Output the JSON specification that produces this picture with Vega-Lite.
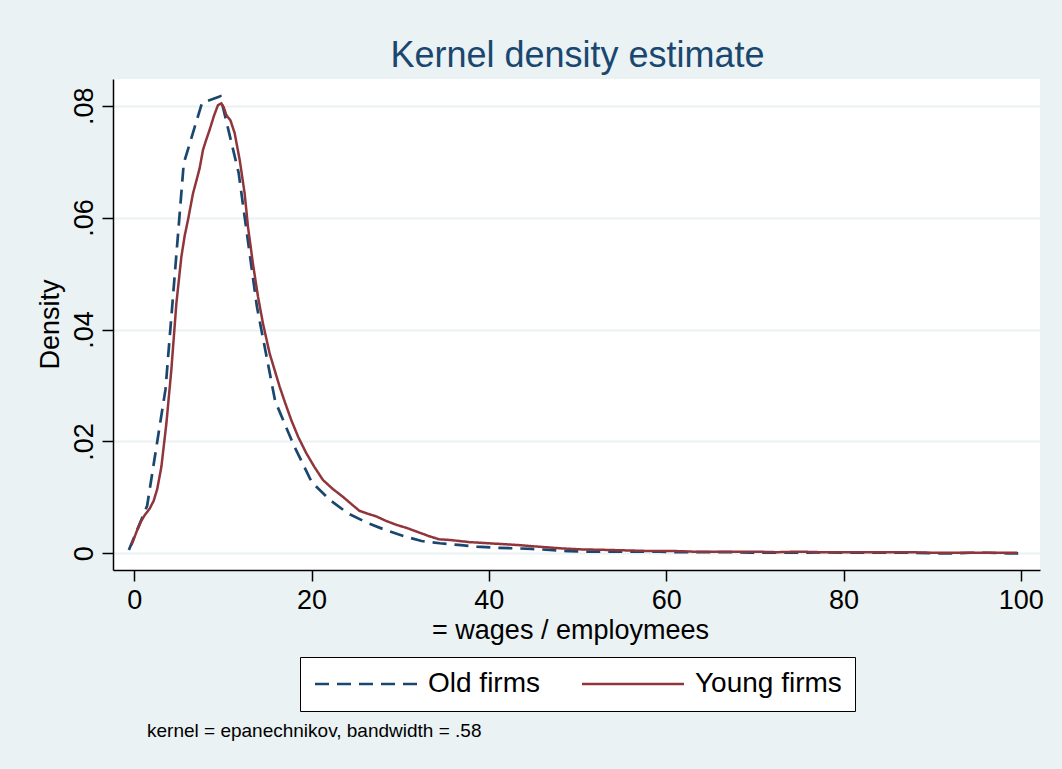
{
  "$schema": "https://vega.github.io/schema/vega-lite/v6.json",
  "autosize": "none",
  "width": 927,
  "height": 491,
  "padding": {"left": 113, "top": 79, "right": 22, "bottom": 199},
  "background": "#EAF2F3",
  "view": {"fill": "white", "stroke": null},
  "title": {
    "text": "kernel = epanechnikov, bandwidth = .58",
    "orient": "bottom",
    "anchor": "start",
    "frame": "group",
    "dx": 34,
    "offset": 10,
    "baseline": "top",
    "font": "Liberation Sans",
    "fontSize": 19,
    "fontWeight": "normal",
    "color": "black"
  },
  "config": {
    "font": "Liberation Sans",
    "axis": {
      "labelFont": "Liberation Sans",
      "titleFont": "Liberation Sans",
      "labelFontSize": 27,
      "titleFontSize": 27,
      "titleFontWeight": "normal",
      "labelColor": "black",
      "titleColor": "black",
      "domainColor": "black",
      "domainWidth": 1.5,
      "tickColor": "black",
      "tickWidth": 1.5,
      "tickSize": 11
    },
    "legend": {
      "orient": "none",
      "legendX": 187,
      "legendY": 578,
      "direction": "horizontal",
      "title": null,
      "symbolType": "M-5,0H5",
      "symbolSize": 416,
      "symbolOffset": 39,
      "symbolStrokeWidth": 2.5,
      "labelFont": "Liberation Sans",
      "labelFontSize": 28,
      "labelColor": "black",
      "labelOffset": 48,
      "columnPadding": 37,
      "padding": 13,
      "strokeColor": "black",
      "fillColor": "white"
    }
  },
  "datasets": {
    "kd": [
      {"series": "Old firms", "x": -0.60, "y": 0.0006},
      {"series": "Old firms", "x": 1.46, "y": 0.0085},
      {"series": "Old firms", "x": 3.53, "y": 0.0293},
      {"series": "Old firms", "x": 5.59, "y": 0.0697},
      {"series": "Old firms", "x": 7.65, "y": 0.0805},
      {"series": "Old firms", "x": 9.72, "y": 0.0817},
      {"series": "Old firms", "x": 11.78, "y": 0.0680},
      {"series": "Old firms", "x": 13.84, "y": 0.0441},
      {"series": "Old firms", "x": 15.90, "y": 0.0272},
      {"series": "Old firms", "x": 17.97, "y": 0.0194},
      {"series": "Old firms", "x": 20.03, "y": 0.0127},
      {"series": "Old firms", "x": 22.09, "y": 0.0095},
      {"series": "Old firms", "x": 24.16, "y": 0.0071},
      {"series": "Old firms", "x": 26.22, "y": 0.0055},
      {"series": "Old firms", "x": 28.28, "y": 0.0042},
      {"series": "Old firms", "x": 30.35, "y": 0.0031},
      {"series": "Old firms", "x": 32.41, "y": 0.0022},
      {"series": "Old firms", "x": 34.47, "y": 0.0018},
      {"series": "Old firms", "x": 36.54, "y": 0.0015},
      {"series": "Old firms", "x": 38.60, "y": 0.0012},
      {"series": "Old firms", "x": 40.66, "y": 0.0010},
      {"series": "Old firms", "x": 42.73, "y": 0.0009},
      {"series": "Old firms", "x": 44.79, "y": 0.0008},
      {"series": "Old firms", "x": 46.85, "y": 0.0006},
      {"series": "Old firms", "x": 48.92, "y": 0.0004},
      {"series": "Old firms", "x": 50.98, "y": 0.0003},
      {"series": "Old firms", "x": 53.04, "y": 0.0003},
      {"series": "Old firms", "x": 55.11, "y": 0.0003},
      {"series": "Old firms", "x": 57.17, "y": 0.0003},
      {"series": "Old firms", "x": 59.23, "y": 0.0003},
      {"series": "Old firms", "x": 61.30, "y": 0.0002},
      {"series": "Old firms", "x": 63.36, "y": 0.0002},
      {"series": "Old firms", "x": 65.42, "y": 0.0002},
      {"series": "Old firms", "x": 67.49, "y": 0.0002},
      {"series": "Old firms", "x": 69.55, "y": 0.0001},
      {"series": "Old firms", "x": 71.61, "y": 0.0001},
      {"series": "Old firms", "x": 73.68, "y": 0.0001},
      {"series": "Old firms", "x": 75.74, "y": 0.0001},
      {"series": "Old firms", "x": 77.80, "y": 0.0002},
      {"series": "Old firms", "x": 79.87, "y": 0.0001},
      {"series": "Old firms", "x": 81.93, "y": 0.0001},
      {"series": "Old firms", "x": 83.99, "y": 0.0001},
      {"series": "Old firms", "x": 86.06, "y": 0.0001},
      {"series": "Old firms", "x": 88.12, "y": 0.0001},
      {"series": "Old firms", "x": 90.18, "y": 0.0000},
      {"series": "Old firms", "x": 92.25, "y": 0.0000},
      {"series": "Old firms", "x": 94.31, "y": 0.0001},
      {"series": "Old firms", "x": 96.37, "y": 0.0001},
      {"series": "Old firms", "x": 98.44, "y": 0.0000},
      {"series": "Old firms", "x": 100.50, "y": 0.0000},
      {"series": "Young firms", "x": -0.3, "y": 0.0015},
      {"series": "Young firms", "x": 0.3, "y": 0.0040},
      {"series": "Young firms", "x": 0.8, "y": 0.0058},
      {"series": "Young firms", "x": 1.18, "y": 0.0068},
      {"series": "Young firms", "x": 1.75, "y": 0.0080},
      {"series": "Young firms", "x": 2.2, "y": 0.0094},
      {"series": "Young firms", "x": 2.6, "y": 0.0115},
      {"series": "Young firms", "x": 3.07, "y": 0.0155},
      {"series": "Young firms", "x": 3.63, "y": 0.0232},
      {"series": "Young firms", "x": 4.19, "y": 0.0328},
      {"series": "Young firms", "x": 4.76, "y": 0.0447},
      {"series": "Young firms", "x": 5.32, "y": 0.0530},
      {"series": "Young firms", "x": 5.7, "y": 0.0568},
      {"series": "Young firms", "x": 6.07, "y": 0.0596},
      {"series": "Young firms", "x": 6.63, "y": 0.0643},
      {"series": "Young firms", "x": 7.0, "y": 0.0665},
      {"series": "Young firms", "x": 7.38, "y": 0.0688},
      {"series": "Young firms", "x": 7.76, "y": 0.0721},
      {"series": "Young firms", "x": 8.1, "y": 0.0738},
      {"series": "Young firms", "x": 8.51, "y": 0.0757},
      {"series": "Young firms", "x": 9.0, "y": 0.0782},
      {"series": "Young firms", "x": 9.45, "y": 0.0801},
      {"series": "Young firms", "x": 9.83, "y": 0.0804},
      {"series": "Young firms", "x": 10.1, "y": 0.0797},
      {"series": "Young firms", "x": 10.4, "y": 0.0783},
      {"series": "Young firms", "x": 10.85, "y": 0.0774},
      {"series": "Young firms", "x": 11.33, "y": 0.0751},
      {"series": "Young firms", "x": 11.9, "y": 0.0703},
      {"series": "Young firms", "x": 12.46, "y": 0.0643},
      {"series": "Young firms", "x": 12.83, "y": 0.0584},
      {"series": "Young firms", "x": 13.39, "y": 0.0518},
      {"series": "Young firms", "x": 13.96, "y": 0.0459},
      {"series": "Young firms", "x": 14.52, "y": 0.0411},
      {"series": "Young firms", "x": 15.28, "y": 0.0357},
      {"series": "Young firms", "x": 16.4, "y": 0.0298},
      {"series": "Young firms", "x": 17.0, "y": 0.0270},
      {"series": "Young firms", "x": 17.72, "y": 0.0238},
      {"series": "Young firms", "x": 18.5, "y": 0.0208},
      {"series": "Young firms", "x": 19.41, "y": 0.0179},
      {"series": "Young firms", "x": 20.3, "y": 0.0155},
      {"series": "Young firms", "x": 21.29, "y": 0.0131},
      {"series": "Young firms", "x": 22.4, "y": 0.0115},
      {"series": "Young firms", "x": 23.54, "y": 0.0101},
      {"series": "Young firms", "x": 24.5, "y": 0.0088},
      {"series": "Young firms", "x": 25.4, "y": 0.0076},
      {"series": "Young firms", "x": 26.3, "y": 0.0071},
      {"series": "Young firms", "x": 27.3, "y": 0.0066},
      {"series": "Young firms", "x": 28.4, "y": 0.0058},
      {"series": "Young firms", "x": 29.56, "y": 0.0051},
      {"series": "Young firms", "x": 30.8, "y": 0.0045},
      {"series": "Young firms", "x": 32.0, "y": 0.0038},
      {"series": "Young firms", "x": 33.2, "y": 0.0031},
      {"series": "Young firms", "x": 34.4, "y": 0.0025},
      {"series": "Young firms", "x": 35.5, "y": 0.0024},
      {"series": "Young firms", "x": 36.7, "y": 0.0022},
      {"series": "Young firms", "x": 37.8, "y": 0.0020},
      {"series": "Young firms", "x": 38.95, "y": 0.0019},
      {"series": "Young firms", "x": 41.0, "y": 0.0017},
      {"series": "Young firms", "x": 43.1, "y": 0.0015},
      {"series": "Young firms", "x": 45.5, "y": 0.0012},
      {"series": "Young firms", "x": 48.0, "y": 0.0009},
      {"series": "Young firms", "x": 50.5, "y": 0.0007},
      {"series": "Young firms", "x": 53.6, "y": 0.0006},
      {"series": "Young firms", "x": 56.0, "y": 0.0005},
      {"series": "Young firms", "x": 58.5, "y": 0.0004},
      {"series": "Young firms", "x": 61.1, "y": 0.0004},
      {"series": "Young firms", "x": 63.0, "y": 0.0003},
      {"series": "Young firms", "x": 65.0, "y": 0.0003},
      {"series": "Young firms", "x": 67.5, "y": 0.0003},
      {"series": "Young firms", "x": 70.0, "y": 0.0003},
      {"series": "Young firms", "x": 72.5, "y": 0.0002},
      {"series": "Young firms", "x": 75.0, "y": 0.0003},
      {"series": "Young firms", "x": 77.5, "y": 0.0002},
      {"series": "Young firms", "x": 80.0, "y": 0.0002},
      {"series": "Young firms", "x": 82.5, "y": 0.0002},
      {"series": "Young firms", "x": 85.0, "y": 0.0002},
      {"series": "Young firms", "x": 87.5, "y": 0.0002},
      {"series": "Young firms", "x": 90.0, "y": 0.0001},
      {"series": "Young firms", "x": 92.5, "y": 0.0001},
      {"series": "Young firms", "x": 95.0, "y": 0.0001},
      {"series": "Young firms", "x": 97.5, "y": 0.0001},
      {"series": "Young firms", "x": 99.6, "y": 0.0001}
    ]
  },
  "data": {"name": "kd"},
  "encoding": {
    "y": {
      "field": "y",
      "type": "quantitative",
      "scale": {"domain": [-0.00298, 0.08477], "nice": false, "zero": false},
      "axis": {
        "orient": "left",
        "title": "Density",
        "values": [0, 0.02, 0.04, 0.06, 0.08],
        "labelExpr": "datum.value === 0 ? '0' : substring(format(datum.value, '.2f'), 1)",
        "labelAngle": -90,
        "labelAlign": "center",
        "labelBaseline": "alphabetic",
        "labelPadding": 10,
        "grid": true,
        "gridColor": "#EAF2F3",
        "gridWidth": 2,
        "titleX": -55,
        "titleY": 245,
        "titleBaseline": "alphabetic",
        "titleAngle": -90
      }
    },
    "color": {
      "field": "series",
      "type": "nominal",
      "scale": {"domain": ["Old firms", "Young firms"], "range": ["#1A476F", "#90353B"]}
    },
    "strokeDash": {
      "field": "series",
      "type": "nominal",
      "scale": {"domain": ["Old firms", "Young firms"], "range": [[14, 8], [1, 0]]}
    }
  },
  "layer": [
    {
      "transform": [{"filter": "datum.series === 'Old firms'"}],
      "mark": {"type": "line", "strokeWidth": 2.7, "clip": true},
      "encoding": {
        "x": {
          "field": "x",
          "type": "quantitative",
          "scale": {"domain": [-2.39, 102.16], "nice": false, "zero": false},
          "axis": {
            "orient": "bottom",
            "title": "= wages / employmees",
            "values": [0, 20, 40, 60, 80, 100],
            "format": "d",
            "grid": false,
            "labelPadding": 6,
            "titleX": 457,
            "titleY": 68,
            "titleBaseline": "alphabetic"
          }
        }
      }
    },
    {
      "transform": [{"filter": "datum.series === 'Young firms'"}],
      "mark": {"type": "line", "strokeWidth": 2.5, "clip": true},
      "encoding": {
        "x": {
          "field": "x",
          "type": "quantitative",
          "scale": {"domain": [-2.39, 102.16], "nice": false, "zero": false},
          "axis": {
            "orient": "top",
            "title": "Kernel density estimate",
            "labels": false,
            "ticks": false,
            "domain": false,
            "grid": false,
            "titleFontSize": 36,
            "titleColor": "#1A476F",
            "titleX": 464,
            "titleY": -13,
            "titleBaseline": "alphabetic"
          }
        }
      }
    }
  ]
}
